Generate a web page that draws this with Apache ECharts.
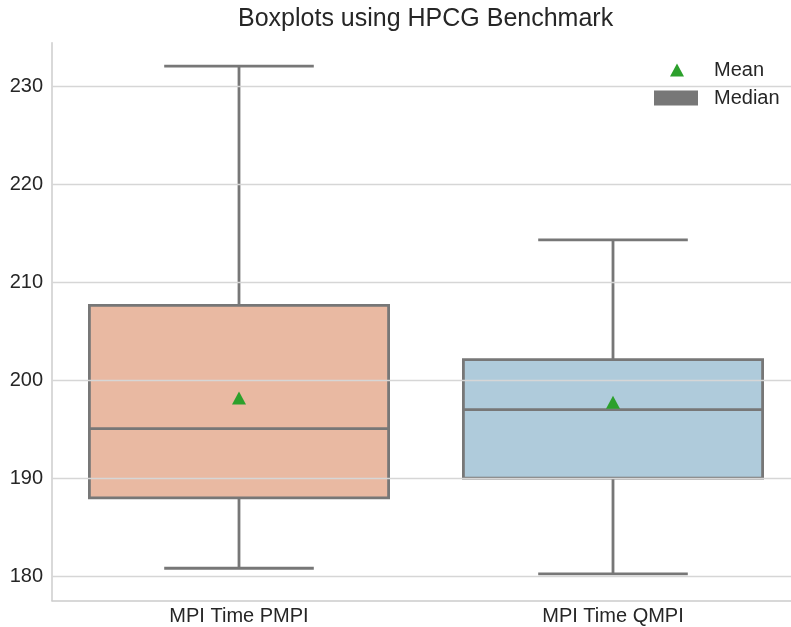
<!DOCTYPE html>
<html>
<head>
<meta charset="utf-8">
<script src="https://cdn.jsdelivr.net/npm/echarts@6/dist/echarts.min.js"></script>
<style>
html,body{margin:0;padding:0;background:#fff;overflow:hidden;width:791px;height:627px;}
#chart{width:800px;height:627px;}
</style>
</head>
<body>
<div id="chart"></div>
<script>
const categories = ['MPI Time PMPI', 'MPI Time QMPI'];
const whiskerLow = [180.86, 180.28];
const q1 = [188.04, 190.06];
const median = [195.1, 197.04];
const q3 = [207.68, 202.14];
const whiskerHigh = [232.1, 214.37];
const means = [198.24, 197.8];
const yTicks = [180, 190, 200, 210, 220, 230];
const yMin = 177.55, yMax = 234.49;
const boxColors = ['#E9B9A2', '#AFCBDB'];

const FONT = 'Liberation Sans, Arial, sans-serif';
const TEXT = '#262626';
const LINE = '#777777';

const chart = echarts.init(document.getElementById('chart'), null, {renderer: 'canvas'});

const boxData = categories.map((c, i) => [i, whiskerLow[i], q1[i], median[i], q3[i], whiskerHigh[i]]);
const meanData = means.map((m, i) => [i, m]);

function renderBox(params, api) {
  const i = api.value(0);
  const xc = api.coord([i, api.value(3)])[0];
  const band = api.size([1, 0])[0];
  const bw = band * 0.8;
  const cw = bw * 0.5;
  const yLo = api.coord([i, api.value(1)])[1];
  const yQ1 = api.coord([i, api.value(2)])[1];
  const yMed = api.coord([i, api.value(3)])[1];
  const yQ3 = api.coord([i, api.value(4)])[1];
  const yHi = api.coord([i, api.value(5)])[1];
  const ls = {stroke: LINE, lineWidth: 2.8};
  return {
    type: 'group',
    children: [
      {type: 'line', shape: {x1: xc, y1: yQ3, x2: xc, y2: yHi}, style: ls},
      {type: 'line', shape: {x1: xc, y1: yQ1, x2: xc, y2: yLo}, style: ls},
      {type: 'line', shape: {x1: xc - cw / 2, y1: yHi, x2: xc + cw / 2, y2: yHi}, style: ls},
      {type: 'line', shape: {x1: xc - cw / 2, y1: yLo, x2: xc + cw / 2, y2: yLo}, style: ls},
      {type: 'rect', shape: {x: xc - bw / 2, y: yQ3, width: bw, height: yQ1 - yQ3},
        style: {fill: boxColors[i], stroke: LINE, lineWidth: 2.8}},
      {type: 'line', shape: {x1: xc - bw / 2, y1: yMed, x2: xc + bw / 2, y2: yMed}, style: ls}
    ]
  };
}

const option = {
  animation: false,
  backgroundColor: '#ffffff',
  title: {
    text: 'Boxplots using HPCG Benchmark',
    left: 238,
    top: 7,
    padding: 0,
    textStyle: {fontFamily: FONT, fontSize: 25, fontWeight: 'normal', color: TEXT}
  },
  legend: {
    orient: 'vertical',
    left: 654,
    top: 60,
    padding: 0,
    itemWidth: 44,
    itemHeight: 15,
    itemGap: 8,
    selectedMode: false,
    textStyle: {fontFamily: FONT, fontSize: 20, color: TEXT, padding: [0, 0, 0, 11]},
    data: [
      {name: 'Mean', icon: 'path://M0,0L0.001,0ZM44,15L43.999,15ZM16,14L23,1L30,14Z', itemStyle: {color: '#2CA02C', borderWidth: 0, opacity: 1}},
      {name: 'Median', icon: 'rect', itemStyle: {color: LINE, borderWidth: 0}}
    ]
  },
  grid: {left: 52, right: 0, top: 42.7, bottom: 26.3, containLabel: false},
  xAxis: {
    type: 'category',
    data: categories,
    boundaryGap: true,
    axisLine: {show: true, lineStyle: {color: '#cccccc', width: 1.5}},
    axisTick: {show: false},
    splitLine: {show: false},
    axisLabel: {fontFamily: FONT, fontSize: 20, color: TEXT, margin: 6}
  },
  yAxis: {
    type: 'value',
    min: yMin,
    max: yMax,
    axisLine: {show: true, lineStyle: {color: '#cccccc', width: 1.5}},
    axisTick: {show: false},
    splitLine: {show: false},
    axisLabel: {fontFamily: FONT, fontSize: 20, color: TEXT, margin: 9, padding: [3, 0, 0, 0], customValues: yTicks}
  },
  series: [
    {
      name: 'grid',
      type: 'line',
      data: [],
      z: 0,
      silent: true,
      markLine: {
        silent: true,
        symbol: ['none', 'none'],
        label: {show: false},
        lineStyle: {color: '#d6d6d6', width: 1.3, type: 'solid'},
        data: yTicks.map(v => ({yAxis: v}))
      }
    },
    {
      name: 'Median',
      type: 'custom',
      z: 2,
      itemStyle: {color: LINE},
      renderItem: renderBox,
      encode: {x: 0, y: [1, 2, 3, 4, 5]},
      data: boxData
    },
    {
      name: 'Mean',
      type: 'scatter',
      z: 3,
      symbol: 'triangle',
      symbolSize: [14, 13],
      itemStyle: {color: '#2CA02C', opacity: 1},
      data: meanData
    }
  ]
};
chart.setOption(option);
</script>
</body>
</html>
